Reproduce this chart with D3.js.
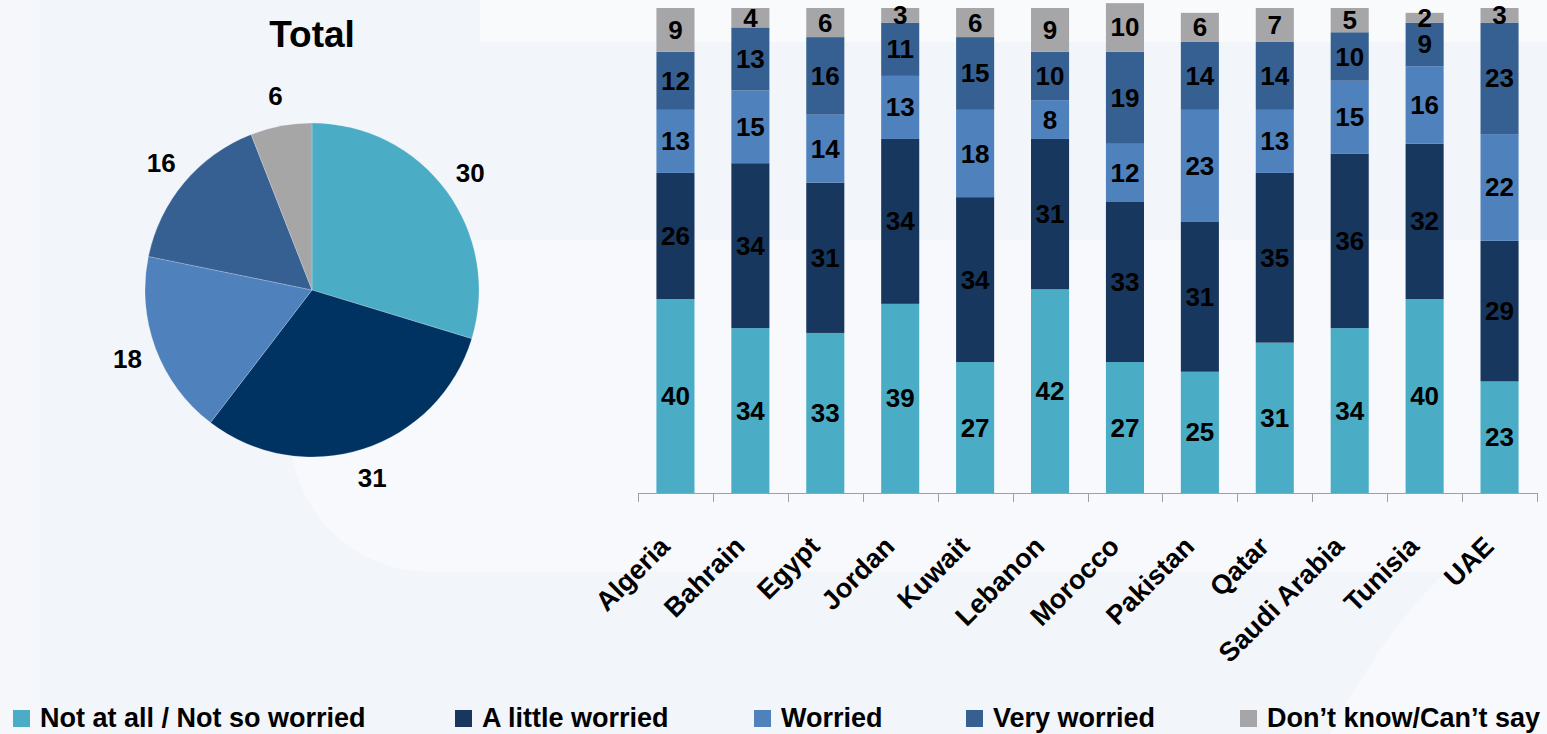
<!DOCTYPE html>
<html>
<head>
<meta charset="utf-8">
<script src="https://cdnjs.cloudflare.com/ajax/libs/d3/7.8.5/d3.min.js"></script>
<style>
  html, body { margin: 0; padding: 0; background: #F3F6FA; }
  svg { display: block; }
  text { font-family: "Liberation Sans", Arial, sans-serif; font-weight: bold; fill: #000; }
</style>
</head>
<body>
<svg id="chart" width="1547" height="734"></svg>
<script>
// ---- data ----
const countries = ["Algeria", "Bahrain", "Egypt", "Jordan", "Kuwait", "Lebanon", "Morocco", "Pakistan", "Qatar", "Saudi Arabia", "Tunisia", "UAE"];
const seriesNames = ["Not at all / Not so worried", "A little worried", "Worried", "Very worried", "Don\u2019t know/Can\u2019t say"];
const notAtAll      = [40, 34, 33, 39, 27, 42, 27, 25, 31, 34, 40, 23];
const littleWorried = [26, 34, 31, 34, 34, 31, 33, 31, 35, 36, 32, 29];
const worried       = [13, 15, 14, 13, 18,  8, 12, 23, 13, 15, 16, 22];
const veryWorried   = [12, 13, 16, 11, 15, 10, 19, 14, 14, 10,  9, 23];
const dontKnow      = [ 9,  4,  6,  3,  6,  9, 10,  6,  7,  5,  2,  3];
const totalValues   = [30, 31, 18, 16, 6];
const pieTitle = "Total";

// ---- styles ----
const barColors = ["#4BACC6", "#17375E", "#4F81BD", "#376092", "#A6A6A8"];
const pieColors = ["#4BACC6", "#003262", "#4F81BD", "#376092", "#A6A6A6"];

const svg = d3.select("#chart");

// background watermark (subtle)
const bg = svg.append("g");
bg.append("rect").attr("x", 0).attr("y", 0).attr("width", 1547).attr("height", 734).attr("fill", "#F2F5F9");
bg.append("rect").attr("x", 0).attr("y", 0).attr("width", 40).attr("height", 734).attr("fill", "#F6F7FB");
bg.append("rect").attr("x", 480).attr("y", 0).attr("width", 1067).attr("height", 42).attr("fill", "#F9FAFC");
bg.append("rect").attr("x", 290).attr("y", 240).attr("width", 1400).attr("height", 332).attr("rx", 140).attr("fill", "#F8F9FC");
bg.append("path").attr("d", "M1547,500 Q1420,560 1330,734 L1547,734 Z").attr("fill", "#F8F9FC");

// ---- bar chart ----
const x = d3.scaleBand().domain(countries).range([638, 1537]).padding(0);
const y = d3.scaleLinear().domain([0, 100]).range([493, 8]);
const barW = x.bandwidth() * 0.508;

const rows = countries.map((c, i) => ({
  country: c,
  v: [notAtAll[i], littleWorried[i], worried[i], veryWorried[i], dontKnow[i]]
}));

const barG = svg.append("g");
rows.forEach(r => {
  let cum = 0;
  const cx = x(r.country) + x.bandwidth() / 2;
  r.v.forEach((v, k) => {
    const y0 = y(cum), y1 = y(cum + v);
    barG.append("rect")
      .attr("x", cx - barW / 2).attr("width", barW)
      .attr("y", y1).attr("height", y0 - y1)
      .attr("fill", barColors[k]);
    barG.append("text")
      .attr("x", cx).attr("y", (y0 + y1) / 2)
      .attr("text-anchor", "middle").attr("dominant-baseline", "central")
      .style("font-size", "26px")
      .text(v);
    cum += v;
  });
});

// axis line and ticks at band boundaries
const axisG = svg.append("g");
axisG.append("line").attr("x1", x.range()[0]).attr("x2", x.range()[1])
  .attr("y1", y(0) + 0.5).attr("y2", y(0) + 0.5).attr("stroke", "#A0A0A0").attr("stroke-width", 1);
const bounds = countries.map(c => x(c)).concat([x.range()[1]]);
axisG.selectAll("line.tick").data(bounds).enter().append("line")
  .attr("x1", d => Math.round(d) + 0.5).attr("x2", d => Math.round(d) + 0.5)
  .attr("y1", y(0)).attr("y2", y(0) + 9).attr("stroke", "#A0A0A0").attr("stroke-width", 1);
axisG.selectAll("text.cat").data(countries).enter().append("text")
  .attr("transform", d => `translate(${x(d) + x.bandwidth() / 2 - 4},548) rotate(-45)`)
  .attr("text-anchor", "end")
  .style("font-size", "27px")
  .text(d => d);

// ---- pie ----
const pcx = 312, pcy = 290, pr = 167, lr = 197;
const pie = d3.pie().sort(null).value(d => d);
const arcs = pie(totalValues);
const arc = d3.arc().innerRadius(0).outerRadius(pr);
const pieG = svg.append("g").attr("transform", `translate(${pcx},${pcy})`);
pieG.selectAll("path").data(arcs).enter().append("path")
  .attr("d", arc).attr("fill", (d, i) => pieColors[i])
  .attr("stroke", "#ffffff").attr("stroke-opacity", 0.35).attr("stroke-width", 0.6);
const labelArc = d3.arc().innerRadius(lr).outerRadius(lr);
pieG.selectAll("text").data(arcs).enter().append("text")
  .attr("transform", d => `translate(${labelArc.centroid(d)})`)
  .attr("text-anchor", "middle").attr("dominant-baseline", "central")
  .style("font-size", "26px")
  .text(d => d.data);
svg.append("text").attr("x", 312).attr("y", 47).attr("text-anchor", "middle")
  .style("font-size", "37px").text(pieTitle);

// ---- legend ----
const legendX = [13, 455, 754, 966, 1240];
const legG = svg.append("g");
seriesNames.forEach((n, i) => {
  legG.append("rect").attr("x", legendX[i]).attr("y", 710).attr("width", 17).attr("height", 17).attr("fill", barColors[i]);
  legG.append("text").attr("x", legendX[i] + 27).attr("y", 727).style("font-size", "27px").text(n);
});
</script>
</body>
</html>
